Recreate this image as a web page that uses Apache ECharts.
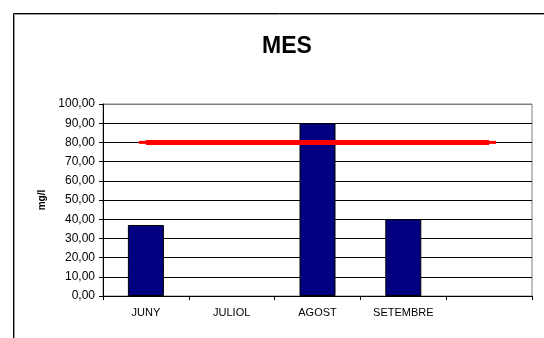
<!DOCTYPE html>
<html>
<head>
<meta charset="utf-8">
<script src="https://cdn.jsdelivr.net/npm/echarts@6/dist/echarts.min.js"></script>
<style>
  html, body { margin: 0; padding: 0; background: #fff; }
  #chart { width: 544px; height: 338px; }
</style>
</head>
<body>
<div id="chart"></div>
<script>
// Monthly values (mg/l) and the reference limit
const categories = ['JUNY', 'JULIOL', 'AGOST', 'SETEMBRE', ''];
const monthValues = [37, null, 90, 40, null];
const limitValues = [80, 80, 80, 80, 80];

const chart = echarts.init(document.getElementById('chart'));
const font = 'Arial, "Liberation Sans", sans-serif';

chart.setOption({
  backgroundColor: '#ffffff',
  animation: false,
  title: {
    text: 'MES',
    left: 282,
    top: 30,
    textAlign: 'center',
    textStyle: { fontFamily: font, fontSize: 23, fontWeight: 'bold', color: '#000' }
  },
  graphic: [
    { type: 'line', shape: { x1: 13.5, y1: 13.5, x2: 544, y2: 13.5 }, style: { stroke: '#000', lineWidth: 1 } },
    { type: 'line', shape: { x1: 14.5, y1: 14.5, x2: 544, y2: 14.5 }, style: { stroke: '#999', lineWidth: 1 } },
    { type: 'line', shape: { x1: 13.5, y1: 13.5, x2: 13.5, y2: 338 }, style: { stroke: '#000', lineWidth: 1 } },
    { type: 'line', shape: { x1: 14.5, y1: 14.5, x2: 14.5, y2: 338 }, style: { stroke: '#999', lineWidth: 1 } }
  ],
  grid: {
    left: 103, top: 104, right: 12, bottom: 42,
    show: true, borderColor: '#808080', borderWidth: 1, backgroundColor: '#fff'
  },
  xAxis: {
    type: 'category',
    data: categories,
    boundaryGap: true,
    axisLine: { lineStyle: { color: '#000', width: 1 } },
    axisTick: { show: true, length: 4, lineStyle: { color: '#000' } },
    axisLabel: { fontFamily: font, fontSize: 11, color: '#000', margin: 11, interval: 0 },
    splitLine: { show: false }
  },
  yAxis: {
    type: 'value',
    min: 0, max: 100, interval: 10,
    name: 'mg/l',
    nameLocation: 'middle',
    nameRotate: 90,
    nameGap: 53,
    nameTextStyle: { fontFamily: font, fontSize: 10, fontWeight: 'bold', color: '#000' },
    axisLine: { show: true, lineStyle: { color: '#000', width: 1 } },
    axisTick: { show: true, length: 4, lineStyle: { color: '#000' } },
    axisLabel: {
      fontFamily: font, fontSize: 12, color: '#000', margin: 8,
      formatter: v => v.toFixed(2).replace('.', ',')
    },
    splitLine: {
      show: true,
      lineStyle: {
        color: ['#000', '#000', '#000', '#000', '#000', '#000', '#000', '#000', '#000', '#000', '#808080'],
        width: 1
      }
    }
  },
  series: [
    {
      type: 'bar',
      data: monthValues,
      barWidth: 36,
      itemStyle: { color: '#000080', borderColor: '#000', borderWidth: 1 }
    },
    {
      type: 'line',
      data: limitValues,
      symbol: 'rect',
      symbolSize: [14, 3],
      itemStyle: { color: '#ff0000' },
      lineStyle: { color: '#ff0000', width: 5 },
      z: 5
    }
  ]
});
</script>
</body>
</html>
